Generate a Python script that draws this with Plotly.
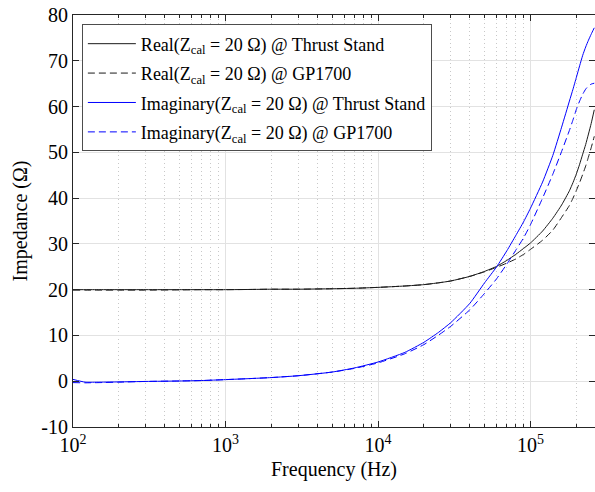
import plotly.graph_objects as go

# Frequency samples (Hz)
freq = [100, 120, 150, 200, 300, 500, 700, 1000, 1500, 2000, 3000, 5000, 7000,
        10000, 15000, 20000, 25000, 30000, 40000, 50000, 60000, 70000, 80000,
        90000, 100000, 120000, 140000, 160000, 180000, 190000, 200000, 210000,
        220000, 230000, 240000, 250000, 262000]

real_thrust = [20.0, 20.0, 20.0, 20.0, 20.0, 20.0, 20.0, 20.0, 20.05, 20.1, 20.1, 20.2, 20.3,
               20.5, 20.8, 21.1, 21.5, 21.9, 22.9, 24.0, 25.1, 26.4, 27.7,
               29.0, 30.2, 32.8, 35.6, 38.5, 41.6, 43.4, 45.3, 47.4,
               49.6, 51.7, 54.0, 56.3, 59.3]

real_gp1700 = [19.9, 19.9, 19.9, 19.9, 19.9, 19.95, 20.0, 20.0, 20.05, 20.1, 20.1, 20.2, 20.3,
               20.5, 20.8, 21.1, 21.5, 21.9, 22.9, 23.9, 24.9, 25.8, 26.7,
               27.7, 28.8, 30.8, 33.0, 35.8, 38.4, 40.0, 41.7, 43.4,
               45.2, 47.0, 49.0, 51.0, 53.5]

imag_thrust = [0.4, -0.2, -0.2, -0.15, -0.05, 0.05, 0.15, 0.35, 0.6, 0.8, 1.2, 2.0, 2.9,
               4.2, 6.3, 8.5, 10.7, 12.8, 17.0, 21.5, 25.0, 28.5, 31.8,
               34.8, 37.8, 43.5, 49.3, 55.5, 61.2, 63.8, 66.4, 68.9,
               71.2, 73.0, 74.5, 75.8, 77.2]

imag_gp1700 = [-0.3, -0.35, -0.3, -0.2, -0.05, 0.05, 0.15, 0.35, 0.6, 0.8, 1.2, 2.0, 2.8,
               4.0, 6.0, 8.0, 10.1, 12.0, 15.6, 19.2, 22.4, 25.6, 28.6,
               31.3, 34.2, 40.0, 45.2, 50.2, 54.8, 57.1, 59.4, 61.2,
               62.7, 63.8, 64.5, 64.9, 65.1]

names = ["Real(Z<sub>cal</sub> = 20 Ω) @ Thrust Stand",
         "Real(Z<sub>cal</sub> = 20 Ω) @ GP1700",
         "Imaginary(Z<sub>cal</sub> = 20 Ω) @ Thrust Stand",
         "Imaginary(Z<sub>cal</sub> = 20 Ω) @ GP1700"]

x_major = [100, 1000, 10000, 100000]
x_major_text = ["10<sup>2</sup>", "10<sup>3</sup>", "10<sup>4</sup>", "10<sup>5</sup>"]
y_ticks = [-10, 0, 10, 20, 30, 40, 50, 60, 70, 80]
y_tick_text = [str(v) for v in y_ticks]

series = [real_thrust, real_gp1700, imag_thrust, imag_gp1700]
colors = ["#1a1a1a", "#1a1a1a", "#0000ff", "#0000ff"]
dashes = ["solid", "7px,4px", "solid", "7px,4px"]

fig = go.Figure()
for i, (vals, nm, c, d) in enumerate(zip(series, names, colors, dashes)):
    fig.add_trace(go.Scatter(x=freq, y=vals, mode="lines", name=nm, legendgroup=f"g{i}",
                             line=dict(color=c, width=1, dash=d, shape="spline", smoothing=0.5)))

minor_vals = []
for dec in [100, 1000, 10000, 100000]:
    for k in range(2, 10):
        minor_vals.append(dec * k)

font_family = "Liberation Serif"
axis_col = "#262626"

fig.update_layout(
    width=595, height=492,
    margin=dict(l=73, r=0, t=15, b=65),
    paper_bgcolor="white", plot_bgcolor="white",
    font=dict(family=font_family, size=20, color="#000000"),
    showlegend=True,
    legend=dict(x=0.017, y=0.977, xanchor="left", yanchor="top",
                bgcolor="white", bordercolor="#4d4d4d", borderwidth=1,
                font=dict(family=font_family, size=18, color="#000000"),
                itemwidth=48, tracegroupgap=3, traceorder="grouped"),
    xaxis=dict(type="log", range=[2, 5.423],
               tickvals=x_major, ticktext=x_major_text,
               ticks="inside", ticklen=6, tickcolor=axis_col,
               showline=True, linecolor=axis_col, linewidth=1, mirror="ticks",
               showgrid=True, gridcolor="#e2e2e2", gridwidth=1,
               minor=dict(tickvals=minor_vals, ticks="inside", ticklen=3,
                          tickcolor=axis_col, showgrid=True, gridcolor="#c8c8c8",
                          griddash="1px,3px", gridwidth=1),
               zeroline=False,
               tickfont=dict(family=font_family, size=20)),
    yaxis=dict(range=[-10, 80], tickvals=y_ticks, ticktext=y_tick_text,
               ticks="inside", ticklen=6, tickcolor=axis_col,
               showline=True, linecolor=axis_col, linewidth=1, mirror="ticks",
               showgrid=True, gridcolor="#e2e2e2", gridwidth=1,
               zeroline=False,
               tickfont=dict(family=font_family, size=20),
               title=dict(text="Impedance (Ω)", font=dict(family=font_family, size=20), standoff=8)),
)
fig.update_xaxes(title=dict(text="Frequency (Hz)", font=dict(family=font_family, size=20), standoff=6))

fig.write_html("out.html")
